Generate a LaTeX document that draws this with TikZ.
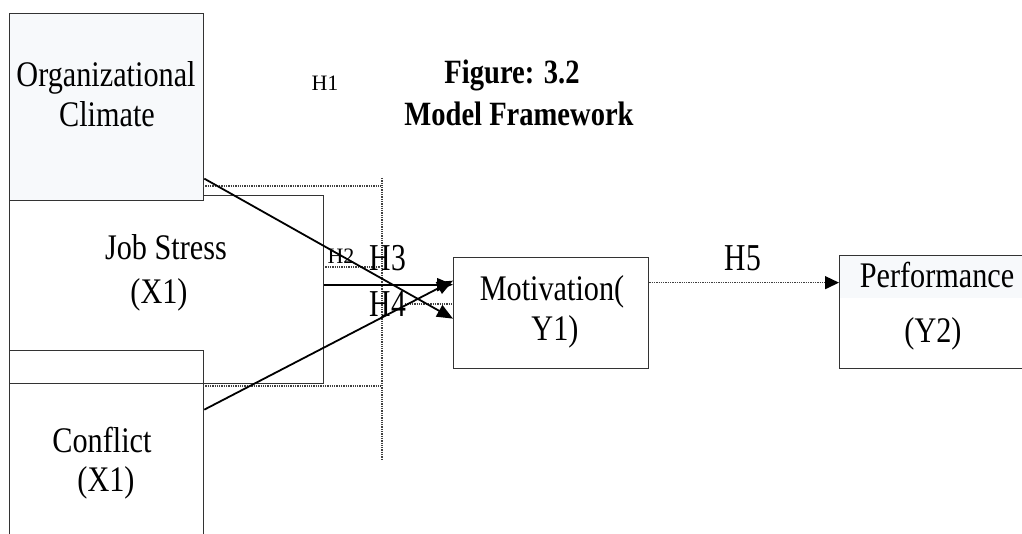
\documentclass[tikz,border=0pt]{standalone}
\usepackage{fontspec}
\setmainfont{Liberation Serif}
\newfontfamily\bigf[FakeStretch=0.84]{Liberation Serif}
\newfontfamily\hf[FakeStretch=0.78]{Liberation Serif}
\usetikzlibrary{arrows.meta}
\definecolor{boxfill}{HTML}{F7F9FB}
\begin{document}
\begin{tikzpicture}[x=1pt,y=-1pt,
  box/.style={draw=black!80, line width=1.3pt, inner sep=0pt, anchor=north west},
  txt/.style={anchor=base, inner sep=0pt, font=\bigf\fontsize{36}{40}\selectfont},
  ttl/.style={anchor=base, inner sep=0pt, font=\bigf\bfseries\fontsize{34}{40}\selectfont},
  hsm/.style={anchor=base, inner sep=0pt, font=\fontsize{22}{24}\selectfont},
  hbig/.style={anchor=base, inner sep=0pt, font=\hf\fontsize{38}{40}\selectfont},
  link/.style={line width=1.8pt, -{Triangle[length=16pt,width=13pt]}},
  dotline/.style={draw=black!75, line width=1.4pt, dash pattern=on 1.3pt off 1pt}]
\clip (0,0) rectangle (1022,534);
\fill[white] (0,0) rectangle (1022,534);
% boxes
\node[box, minimum width=314pt, minimum height=188pt] (job) at (9,195) {};
\node[box, minimum width=194pt, minimum height=200pt] (conf) at (9,350) {};
\node[box, fill=boxfill, minimum width=194pt, minimum height=187pt] (org) at (9,13) {};
\node[box, minimum width=195pt, minimum height=111pt] (mot) at (453,257) {};
\fill[boxfill] (839,255) rectangle (1022,298);
\node[box, minimum width=200pt, minimum height=113pt] (perf) at (839,255) {};
% dotted guides
\draw[dotline] (203,186) -- (382,186);
\draw[dotline] (382,178) -- (382,460);
\draw[dotline] (203,386) -- (382,386);
\draw[dotline] (323,267) -- (380,267);
\draw[dotline] (405,304) -- (453,304);
% texts
\node[txt] (t1) at (106,87) {Organizational};
\node[txt] (t2) at (107,127) {Climate};
\node[txt] (t3) at (166,260) {Job Stress};
\node[txt] (t4) at (159,304) {(X1)};
\node[txt] (t5) at (102,452) {Conflict};
\node[txt] (t6) at (106,491) {(X1)};
\node[txt] (t7) at (552,301) {Motivation(};
\node[txt] (t8) at (555,341) {Y1)};
\node[txt] (t9) at (937,288) {Performance};
\node[txt] (t10) at (933,342) {(Y2)};
\node[ttl] (f1) at (512,84) {Figure: 3.2};
\node[ttl] (f2) at (519,126) {Model Framework};
\node[hsm] (h1) at (325,91) {H1};
\node[hsm] (h2) at (341,264) {H2};
\node[hbig] (h3) at (388,271) {H3};
\node[hbig] (h4) at (388,317) {H4};
\node[hbig] (h5) at (743,271) {H5};
% connectors
\draw[link] ([yshift=-71.5pt]org.east) -- ([yshift=-5.5pt]mot.west);
\draw[link] ([yshift=5pt]job.east) -- ([yshift=28.5pt]mot.west);
\draw[link] ([yshift=41pt]conf.east) -- ([yshift=32.5pt]mot.west);
\draw[dotline, -{Triangle[length=14pt,width=13pt,color=black,fill=black]}] ([yshift=30.5pt]mot.east) -- ([yshift=29.5pt]perf.west);
\end{tikzpicture}
\end{document}
